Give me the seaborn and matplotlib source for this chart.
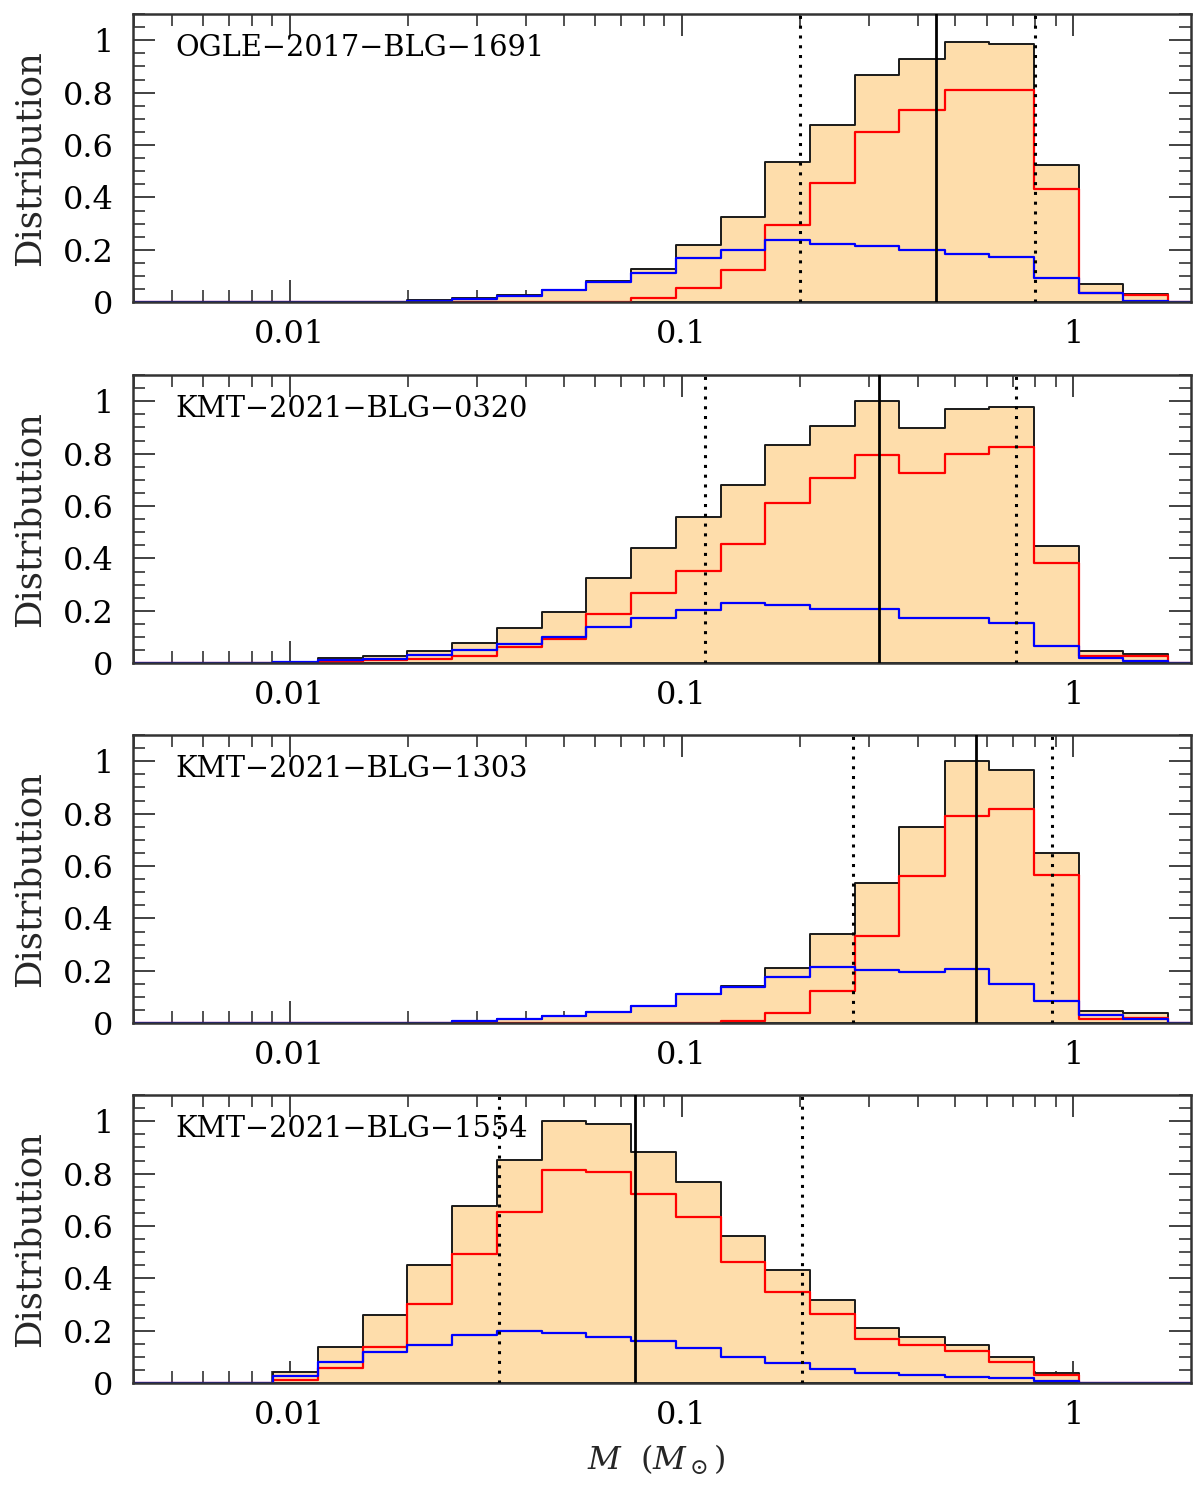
import numpy as np
import pandas as pd
import matplotlib
matplotlib.use("Agg")
import matplotlib.pyplot as plt
from matplotlib.ticker import FixedLocator, FixedFormatter, LogLocator, NullFormatter, MultipleLocator
import seaborn as sns

# ---------------- data ----------------
EVENTS = ["OGLE\u22122017\u2212BLG\u22121691",
          "KMT\u22122021\u2212BLG\u22120320",
          "KMT\u22122021\u2212BLG\u22121303",
          "KMT\u22122021\u2212BLG\u22121554"]

# log10(M/Msun) bin edges of the histograms
LOG_MASS_EDGES = [-2.042, -1.928, -1.814, -1.700, -1.585, -1.471, -1.357, -1.243,
                  -1.129, -1.014, -0.900, -0.786, -0.672, -0.558, -0.444, -0.329,
                  -0.215, -0.101, 0.013, 0.127, 0.242]
X_LIMITS_LOG = [-2.4, 0.3]

TOTAL_1691 = [0.0, 0.002, 0.003, 0.007, 0.015, 0.027, 0.048, 0.082, 0.128, 0.220,
              0.326, 0.534, 0.678, 0.868, 0.930, 0.995, 0.985, 0.525, 0.070, 0.030]
BULGE_1691 = [0.0, 0.001, 0.002, 0.002, 0.002, 0.002, 0.002, 0.003, 0.018, 0.053,
              0.125, 0.294, 0.456, 0.651, 0.734, 0.811, 0.809, 0.431, 0.034, 0.028]
DISK_1691 = [0.0, 0.001, 0.001, 0.005, 0.013, 0.025, 0.046, 0.079, 0.113, 0.170,
             0.200, 0.237, 0.224, 0.215, 0.200, 0.183, 0.174, 0.094, 0.034, 0.005]

TOTAL_0320 = [0.006, 0.019, 0.029, 0.048, 0.079, 0.134, 0.195, 0.326, 0.439, 0.557,
              0.681, 0.833, 0.906, 1.000, 0.897, 0.969, 0.977, 0.447, 0.046, 0.035]
BULGE_0320 = [0.002, 0.006, 0.011, 0.018, 0.029, 0.061, 0.093, 0.187, 0.268, 0.354,
              0.455, 0.611, 0.706, 0.795, 0.725, 0.798, 0.824, 0.383, 0.026, 0.026]
DISK_0320 = [0.004, 0.013, 0.018, 0.030, 0.050, 0.073, 0.102, 0.140, 0.172, 0.205,
             0.230, 0.223, 0.207, 0.207, 0.172, 0.173, 0.153, 0.065, 0.020, 0.009]

TOTAL_1303 = [0.0, 0.0, 0.002, 0.003, 0.007, 0.015, 0.029, 0.045, 0.067, 0.113,
              0.142, 0.210, 0.340, 0.536, 0.750, 1.000, 0.966, 0.650, 0.048, 0.040]
BULGE_1303 = [0.0, 0.0, 0.0, 0.0, 0.0, 0.0, 0.001, 0.001, 0.001, 0.003,
              0.009, 0.038, 0.123, 0.333, 0.562, 0.792, 0.816, 0.565, 0.018, 0.022]
DISK_1303 = [0.0, 0.0, 0.002, 0.003, 0.007, 0.015, 0.028, 0.044, 0.066, 0.110,
             0.140, 0.175, 0.216, 0.203, 0.194, 0.208, 0.150, 0.086, 0.030, 0.017]

TOTAL_1554 = [0.045, 0.140, 0.259, 0.451, 0.678, 0.851, 1.000, 0.989, 0.884, 0.767,
              0.563, 0.433, 0.318, 0.210, 0.177, 0.148, 0.102, 0.038, 0.003, 0.002]
BULGE_1554 = [0.013, 0.059, 0.138, 0.302, 0.492, 0.654, 0.813, 0.806, 0.724, 0.633,
              0.461, 0.350, 0.264, 0.168, 0.146, 0.125, 0.083, 0.031, 0.000, 0.002]
DISK_1554 = [0.029, 0.080, 0.118, 0.146, 0.183, 0.200, 0.191, 0.178, 0.162, 0.134,
             0.102, 0.079, 0.056, 0.041, 0.032, 0.025, 0.019, 0.008, 0.003, 0.000]

TOTALS = [TOTAL_1691, TOTAL_0320, TOTAL_1303, TOTAL_1554]
BULGES = [BULGE_1691, BULGE_0320, BULGE_1303, BULGE_1554]
DISKS = [DISK_1691, DISK_0320, DISK_1303, DISK_1554]

MEDIAN = [0.445, 0.319, 0.563, 0.0762]
LOWER = [0.200, 0.1145, 0.273, 0.0342]
UPPER = [0.796, 0.712, 0.881, 0.203]

Y_TICKS = [0, 0.2, 0.4, 0.6, 0.8, 1.0]
Y_TICK_LABELS = ["0", "0.2", "0.4", "0.6", "0.8", "1"]
X_TICKS = [0.01, 0.1, 1]
X_TICK_LABELS = ["0.01", "0.1", "1"]

# ---------------- style ----------------
sns.set_style("ticks")
plt.rcParams["font.family"] = ["DejaVu Serif"]
plt.rcParams["mathtext.fontset"] = "dejavuserif"

FILL = "#FEDDAB"
FRAME = "#333333"

W, H = 1200, 1491
fig = plt.figure(figsize=(W / 100, H / 100), dpi=100)

left_px, right_px = 133, 1191
panel_h = 288.3
tops = [14, 375, 735, 1095]

bins = [X_LIMITS_LOG[0]] + LOG_MASS_EDGES + [X_LIMITS_LOG[1]]
bins_arr = np.array(bins)
centers = 0.5 * (bins_arr[:-1] + bins_arr[1:])

axes = []
for i in range(4):
    ax = fig.add_axes([left_px / W, 1 - (tops[i] + panel_h) / H,
                       (right_px - left_px) / W, panel_h / H])
    axes.append(ax)
    df = pd.DataFrame({
        "mass": 10 ** centers,
        "total": [0.0] + TOTALS[i] + [0.0],
        "bulge": [0.0] + BULGES[i] + [0.0],
        "disk": [0.0] + DISKS[i] + [0.0],
    })
    sns.histplot(data=df, x="mass", weights="total", bins=bins, log_scale=True,
                 element="step", fill=True, facecolor=FILL, edgecolor="#1a1a1a",
                 linewidth=1.4, alpha=1, ax=ax)
    sns.histplot(data=df, x="mass", weights="bulge", bins=bins, log_scale=True,
                 element="step", fill=False, color="#ff0000", linewidth=1.6, ax=ax)
    sns.histplot(data=df, x="mass", weights="disk", bins=bins, log_scale=True,
                 element="step", fill=False, color="#0000ff", linewidth=1.6, ax=ax)

    ax.axvline(MEDIAN[i], color="black", lw=2.0, zorder=5)
    ax.axvline(LOWER[i], color="black", lw=2.2, ls=(0, (1, 2.2)), zorder=5)
    ax.axvline(UPPER[i], color="black", lw=2.2, ls=(0, (1, 2.2)), zorder=5)

    ax.set_xscale("log")
    ax.set_xlim(10 ** X_LIMITS_LOG[0], 10 ** X_LIMITS_LOG[1])
    ax.set_ylim(0, 1.1)

    ax.xaxis.set_major_locator(FixedLocator(X_TICKS))
    ax.xaxis.set_major_formatter(FixedFormatter(X_TICK_LABELS))
    ax.xaxis.set_minor_locator(LogLocator(base=10, subs=np.arange(2, 10)))
    ax.xaxis.set_minor_formatter(NullFormatter())
    ax.yaxis.set_major_locator(FixedLocator(Y_TICKS))
    ax.yaxis.set_major_formatter(FixedFormatter(Y_TICK_LABELS))
    ax.yaxis.set_minor_locator(MultipleLocator(0.05))

    ax.tick_params(which="both", direction="in", top=True, right=True,
                   color=FRAME, labelsize=23, labelcolor="black")
    ax.tick_params(which="major", length=16, width=1.3)
    ax.tick_params(which="minor", length=8.5, width=1.2)
    ax.tick_params(axis="x", which="major", pad=12)
    ax.tick_params(axis="y", which="major", pad=14)
    for sp in ax.spines.values():
        sp.set_color(FRAME)
        sp.set_linewidth(1.8)
        sp.set_visible(True)

    ax.set_ylabel("Distribution", fontsize=25.5)
    ax.yaxis.label.set_horizontalalignment("center")
    ax.yaxis.label.set_verticalalignment("center")
    ax.yaxis.set_label_coords(-0.0975, 0.5)
    ax.set_xlabel("")

    ax.text(0.0397, 0.882, EVENTS[i], transform=ax.transAxes, ha="left",
            va="center", fontsize=20.7, color="black")

axes[-1].set_xlabel(r"$M\ \ (M_\odot)$", fontsize=23)
axes[-1].xaxis.label.set_verticalalignment("center")
axes[-1].xaxis.set_label_coords(0.495, -0.266)

fig.savefig("out.png", dpi=100)
